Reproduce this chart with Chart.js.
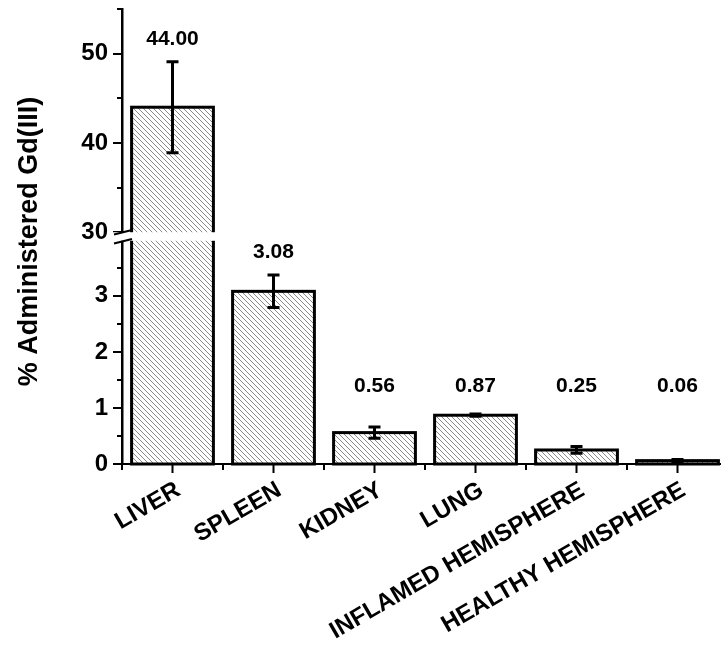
<!DOCTYPE html>
<html>
<head>
<meta charset="utf-8">
<title>% Administered Gd(III)</title>
<script src="https://cdn.jsdelivr.net/npm/chart.js@4.4.0/dist/chart.umd.min.js"></script>
<style>
  html, body { margin: 0; padding: 0; background: #fff; overflow: hidden; }
  /* a bit wider than the window: the last category runs to the right edge */
  #wrap { position: relative; width: 728px; height: 646px; }
</style>
</head>
<body>
<div id="wrap"><canvas id="organChart"></canvas></div>
<script>
// Values
const organs = ['LIVER', 'SPLEEN', 'KIDNEY', 'LUNG', 'INFLAMED HEMISPHERE', 'HEALTHY HEMISPHERE'];
const gdPercent = [44.00, 3.08, 0.56, 0.87, 0.25, 0.06];
const gdError = [5.1, 0.29, 0.1, 0.02, 0.06, 0.02];

// Broken y axis: lower part 0-4, upper part 30-55
const lowerRange = [0, 4];
const upperRange = [30, 55];
const yMajorTicks = [0, 1, 2, 3, 30, 40, 50];
const yMinorTicks = [0.5, 1.5, 2.5, 3.5, 35, 45, 55];
const yTitle = '% Administered Gd(III)';

const LOWER_SHARE = 0.4928;  // share of the axis height for 0-4
const UPPER_START = 0.5094;  // where 30-55 starts (the gap is in between)

function toDecimal(v) {
  if (v <= lowerRange[1]) {
    return (v - lowerRange[0]) / (lowerRange[1] - lowerRange[0]) * LOWER_SHARE;
  }
  if (v >= upperRange[0]) {
    return UPPER_START + (v - upperRange[0]) / (upperRange[1] - upperRange[0]) * (1 - UPPER_START);
  }
  return LOWER_SHARE + (v - lowerRange[1]) / (upperRange[0] - lowerRange[1]) * (UPPER_START - LOWER_SHARE);
}

function fromDecimal(d) {
  if (d <= LOWER_SHARE) {
    return lowerRange[0] + d / LOWER_SHARE * (lowerRange[1] - lowerRange[0]);
  }
  if (d >= UPPER_START) {
    return upperRange[0] + (d - UPPER_START) / (1 - UPPER_START) * (upperRange[1] - upperRange[0]);
  }
  return lowerRange[1] + (d - LOWER_SHARE) / (UPPER_START - LOWER_SHARE) * (upperRange[0] - lowerRange[1]);
}

// Linear scale with a piecewise mapping (axis break)
class BrokenScale extends Chart.LinearScale {
  buildTicks() {
    return yMajorTicks.map(v => ({ value: v }));
  }
  getPixelForValue(value) {
    if (value === null || isNaN(value)) return NaN;
    return this.getPixelForDecimal(toDecimal(value));
  }
  getValueForPixel(pixel) {
    return fromDecimal(this.getDecimalForPixel(pixel));
  }
}
BrokenScale.id = 'broken';
BrokenScale.defaults = {};
Chart.register(BrokenScale);

Chart.defaults.font.family = '"Liberation Sans", Arial, sans-serif';
Chart.defaults.color = '#000';

// diagonal hatch fill like the original
function makeHatch(ctx) {
  const tile = document.createElement('canvas');
  tile.width = 5;
  tile.height = 5;
  const g = tile.getContext('2d');
  g.fillStyle = '#fff';
  g.fillRect(0, 0, 5, 5);
  g.strokeStyle = '#8a8a8a';
  g.lineWidth = 1;
  g.beginPath();
  g.moveTo(-1, -1); g.lineTo(6, 6);
  g.moveTo(-1, 4); g.lineTo(1, 6);
  g.moveTo(4, -1); g.lineTo(6, 1);
  g.stroke();
  return ctx.createPattern(tile, 'repeat');
}

// outlines, error bars, ticks, break marks and value labels
const brokenAxisPlugin = {
  id: 'brokenAxis',
  afterDatasetsDraw(chart) {
    const { ctx, chartArea, scales: { x, y } } = chart;
    const bars = chart.getDatasetMeta(0).data;
    ctx.save();

    // bar outlines
    ctx.strokeStyle = '#000';
    ctx.lineWidth = 3;
    bars.forEach(bar => {
      const p = bar.getProps(['x', 'y', 'base', 'width'], true);
      ctx.strokeRect(p.x - p.width / 2, p.y, p.width, p.base - p.y);
    });

    // error bars
    bars.forEach((bar, i) => {
      const hi = y.getPixelForValue(gdPercent[i] + gdError[i]);
      const lo = y.getPixelForValue(gdPercent[i] - gdError[i]);
      ctx.beginPath();
      ctx.moveTo(bar.x, hi); ctx.lineTo(bar.x, lo);
      ctx.moveTo(bar.x - 6, hi); ctx.lineTo(bar.x + 6, hi);
      ctx.moveTo(bar.x - 6, lo); ctx.lineTo(bar.x + 6, lo);
      ctx.stroke();
    });

    // tick marks
    ctx.lineWidth = 2;
    ctx.beginPath();
    yMajorTicks.forEach(v => {
      const py = Math.round(y.getPixelForValue(v));
      ctx.moveTo(chartArea.left - 9, py); ctx.lineTo(chartArea.left, py);
    });
    yMinorTicks.forEach(v => {
      const py = Math.round(y.getPixelForValue(v));
      ctx.moveTo(chartArea.left - 5, py); ctx.lineTo(chartArea.left, py);
    });
    organs.forEach((o, i) => {
      const cx = x.getPixelForValue(i);
      const step = i > 0 ? cx - x.getPixelForValue(i - 1) : x.getPixelForValue(1) - cx;
      ctx.moveTo(cx, chartArea.bottom); ctx.lineTo(cx, chartArea.bottom + 9);
      ctx.moveTo(cx - step / 2, chartArea.bottom); ctx.lineTo(cx - step / 2, chartArea.bottom + 6);
    });
    ctx.stroke();

    // the break: white band and two slashes
    const yBreak = y.getPixelForValue(upperRange[0]);
    const yLow = y.getPixelForValue(lowerRange[1]);
    ctx.fillStyle = '#fff';
    ctx.fillRect(chartArea.left - 10, yBreak, chartArea.right - chartArea.left + 10, yLow - yBreak + 1);
    ctx.lineWidth = 2;
    ctx.beginPath();
    [yBreak, yLow + 1.5].forEach(py => {
      ctx.moveTo(chartArea.left - 8, py + 2.2);
      ctx.lineTo(chartArea.left + 10, py - 2.2);
    });
    ctx.stroke();

    // value labels above the bars
    ctx.fillStyle = '#000';
    ctx.font = 'bold 21px "Liberation Sans", Arial, sans-serif';
    ctx.textAlign = 'center';
    ctx.textBaseline = 'middle';
    const lowest = chartArea.bottom - 78;
    bars.forEach((bar, i) => {
      const top = y.getPixelForValue(gdPercent[i] + gdError[i]);
      ctx.fillText(gdPercent[i].toFixed(2), bar.x, Math.min(top - 22.5, lowest));
    });

    // y axis title, a little below the middle of the axis like the original
    ctx.font = 'bold 27px "Liberation Sans", Arial, sans-serif';
    ctx.translate(30, (chartArea.top + chartArea.bottom) / 2 + 5);
    ctx.rotate(-Math.PI / 2);
    ctx.fillText(yTitle, 0, 0);
    ctx.restore();
  }
};

document.addEventListener('DOMContentLoaded', () => {
  const canvas = document.getElementById('organChart');
  const hatch = makeHatch(canvas.getContext('2d'));

  new Chart(canvas, {
    type: 'bar',
    data: {
      labels: organs,
      datasets: [{
        data: gdPercent,
        backgroundColor: hatch,
        borderWidth: 0,
        barPercentage: 0.81,
        categoryPercentage: 1
      }]
    },
    options: {
      responsive: true,
      maintainAspectRatio: false,
      animation: false,
      layout: { padding: { top: 9, left: 0, right: 0, bottom: 0 } },
      plugins: {
        legend: { display: false },
        tooltip: { enabled: false }
      },
      scales: {
        x: {
          grid: { display: false, drawTicks: false },
          border: { display: true, color: '#000', width: 2 },
          ticks: {
            color: '#000',
            font: { size: 24, weight: 'bold' },
            minRotation: 30,
            maxRotation: 30,
            autoSkip: false,
            padding: 12,
            labelOffset: 6
          },
          afterFit: s => {
            s.height = 182;
            s.paddingLeft = 0;
            s.paddingRight = 0;
          }
        },
        y: {
          type: 'broken',
          min: 0,
          max: 55,
          grid: { display: false, drawTicks: false },
          border: { display: true, color: '#000', width: 2.5 },
          ticks: {
            color: '#000',
            font: { size: 24, weight: 'bold' },
            padding: 14,
            callback: v => String(v)
          },
          afterFit: s => {
            s.width = 122;
            s.paddingTop = 0;
            s.paddingBottom = 0;
          }
        }
      }
    },
    plugins: [brokenAxisPlugin]
  });
});
</script>
</body>
</html>
